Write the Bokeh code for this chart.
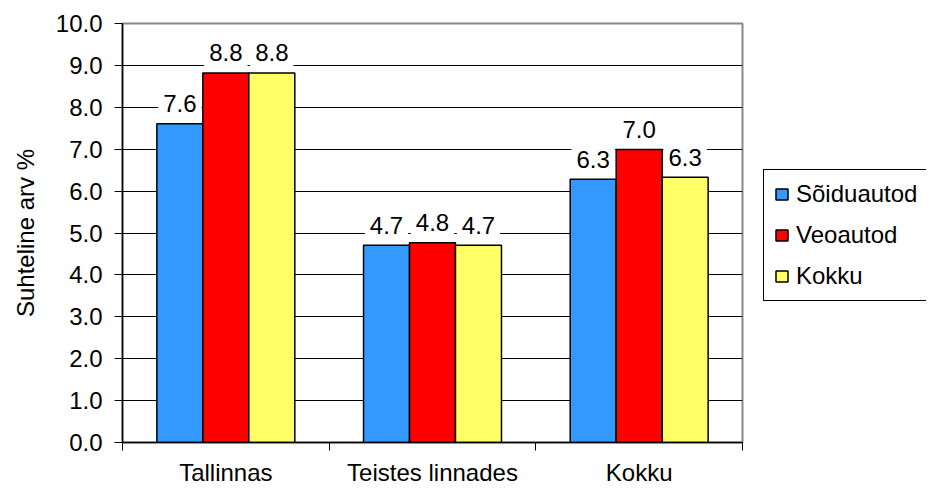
from bokeh.plotting import figure
from bokeh.layouts import row
from bokeh.models import (ColumnDataSource, Range1d, FixedTicker, PrintfTickFormatter,
                          Legend, LegendItem, Label)
from bokeh.embed import file_html
from bokeh.resources import INLINE

# ---- data ----
categories = ["Tallinnas", "Teistes linnades", "Kokku"]
series_names = ["Sõiduautod", "Veoautod", "Kokku"]
soiduautod = [7.61, 4.71, 6.28]
veoautod = [8.82, 4.77, 6.99]
kokku = [8.82, 4.71, 6.33]
y_ticks = [0, 1, 2, 3, 4, 5, 6, 7, 8, 9, 10]
y_label = "Suhteline arv %"
colors = ["#3399FF", "#FF0000", "#FFFF66"]

FONT = "Liberation Sans"
FS = "24px"
H = 488

p = figure(width=745, height=H,
           x_range=Range1d(0, len(categories)), y_range=Range1d(y_ticks[0], y_ticks[-1]),
           output_backend="svg", toolbar_location=None,
           min_border_left=122, min_border_top=23, min_border_bottom=45, min_border_right=3)

bar_w = 0.2225
values = [soiduautod, veoautod, kokku]
for j, (name, vals, col) in enumerate(zip(series_names, values, colors)):
    xs = [i + 0.5 + (j - 1) * bar_w for i in range(len(categories))]
    src = ColumnDataSource(dict(x=xs, top=vals))
    p.vbar(x="x", top="top", bottom=0, width=bar_w, source=src,
           fill_color=col, line_color="black", line_width=1.5)
    for x, v in zip(xs, vals):
        p.add_layout(Label(x=x, y=v, text=f"{v:.1f}", y_offset=20,
                           text_align="center", text_baseline="alphabetic",
                           text_font=FONT, text_font_size=FS, text_color="black",
                           background_fill_color="white", padding=5))

# y axis
yax = p.yaxis[0]
yax.ticker = FixedTicker(ticks=y_ticks)
yax.formatter = PrintfTickFormatter(format="%.1f")
yax.axis_label = y_label
yax.axis_label_text_font = FONT
yax.axis_label_text_font_size = FS
yax.axis_label_text_font_style = "normal"
yax.axis_label_text_color = "black"
yax.axis_label_standoff = 14
yax.major_label_text_font = FONT
yax.major_label_text_font_size = FS
yax.major_label_text_color = "black"
yax.major_label_standoff = 12
yax.major_tick_out = 8
yax.major_tick_in = 0
yax.minor_tick_line_color = None
yax.axis_line_color = "black"
yax.axis_line_width = 1.5
yax.major_tick_line_color = "black"

# x axis
xax = p.xaxis[0]
xax.ticker = FixedTicker(ticks=[i + 0.5 for i in range(len(categories))],
                         minor_ticks=list(range(len(categories) + 1)))
xax.major_label_overrides = {i + 0.5: c for i, c in enumerate(categories)}
xax.major_tick_line_color = None
xax.major_tick_out = 8
xax.major_tick_in = 0
xax.minor_tick_out = 8
xax.minor_tick_in = 0
xax.minor_tick_line_color = "black"
xax.major_label_text_font = FONT
xax.major_label_text_font_size = FS
xax.major_label_text_color = "black"
xax.major_label_standoff = 8
xax.axis_line_color = "black"
xax.axis_line_width = 1.5

# grid
p.xgrid.visible = False
p.ygrid.ticker = FixedTicker(ticks=y_ticks[1:-1])
p.ygrid.grid_line_color = "black"
p.ygrid.grid_line_width = 1

p.outline_line_color = "#888888"
p.outline_line_width = 2
p.background_fill_color = "white"

# legend panel (separate figure to the right of the chart)
lp = figure(width=181, height=H, x_range=Range1d(0, 1), y_range=Range1d(0, 1),
            output_backend="svg", toolbar_location=None, min_border=0,
            x_axis_location=None, y_axis_location=None, outline_line_color=None)
lp.grid.visible = False
items = []
for name, col in zip(series_names, colors):
    # key-only renderer: its single bar lies outside the visible range
    r = lp.vbar(x=[5], top=[0], width=0.1, fill_color=col, line_color="black", line_width=1.5)
    items.append(LegendItem(label=name, renderers=[r]))

legend = Legend(items=items, location=(18, 141),
                border_line_color="black", border_line_width=1, border_line_alpha=1.0,
                background_fill_color="white", background_fill_alpha=1.0,
                padding=10, spacing=13, margin=0,
                glyph_width=15, glyph_height=14, label_standoff=7, label_height=27,
                label_text_font=FONT, label_text_font_size=FS, label_text_color="black")
lp.add_layout(legend, "center")

layout = row(p, lp)
open("out.html", "w").write(file_html(layout, INLINE))
